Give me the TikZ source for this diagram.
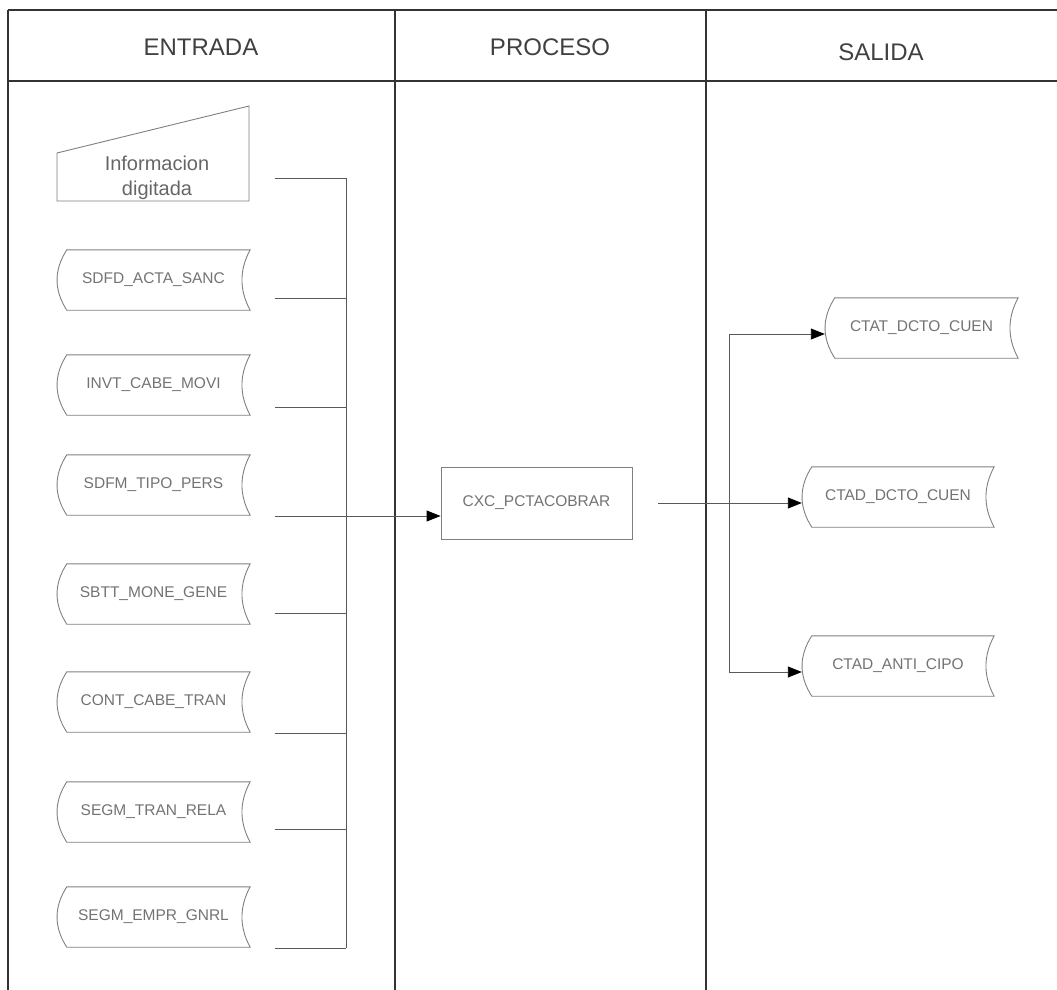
\documentclass[tikz,border=0pt]{standalone}
\usepackage{fontspec}
\setmainfont{Liberation Sans}
\usetikzlibrary{calc,arrows.meta}
\begin{document}
\begin{tikzpicture}[x=1pt,y=-1pt,
  frame/.style={line width=1.5pt, draw=black!80},
  outl/.style={draw=black!50, line width=0.9pt},
  wire/.style={draw=black!65, line width=0.9pt},
  arr/.style={wire, -{Triangle[length=14pt,width=11pt,color=black]}},
  lbl/.style={font=\fontsize{15.5}{18}\selectfont, text=black!55},
  store/.style={lbl, minimum width=193pt, minimum height=60pt, inner sep=0pt},
  hdr/.style={font=\fontsize{24}{28}\selectfont, text=black!75},
  procbox/.style={lbl, draw=black!50, line width=0.9pt, minimum width=191pt, minimum height=72pt, inner sep=0pt}]
\useasboundingbox (0,0) rectangle (1057,990);
% frame
\draw[frame] (8,10) -- (1060,10);
\draw[frame] (8,81) -- (1060,81);
\draw[frame] (8,10) -- (8,992);
\draw[frame] (395,10) -- (395,992);
\draw[frame] (706,10) -- (706,992);
% headers
\node[hdr] (hin) at (201,47) {ENTRADA};
\node[hdr] (hpr) at (550,47) {PROCESO};
\node[hdr] (hout) at (881,52) {SALIDA};
% manual input
\draw[outl] (57,153) -- (249,106) -- (249,201) -- (57,201) -- cycle;
\node[lbl, font=\fontsize{20}{25}\selectfont, align=center, text=black!60] (info) at (157,178) {Informacion\\digitada};
% storage nodes
\node[store] (sdfd) at (153.5,280) {SDFD\_ACTA\_SANC};
\node[store] (invt) at (153.5,385) {INVT\_CABE\_MOVI};
\node[store] (sdfm) at (153.5,485) {SDFM\_TIPO\_PERS};
\node[store] (sbtt) at (153.5,594) {SBTT\_MONE\_GENE};
\node[store] (cont) at (153.5,702) {CONT\_CABE\_TRAN};
\node[store] (segt) at (153.5,812) {SEGM\_TRAN\_RELA};
\node[store] (sege) at (153.5,917) {SEGM\_EMPR\_GNRL};
\node[store] (ctat) at (921.5,328) {CTAT\_DCTO\_CUEN};
\node[store, minimum width=192pt] (ctadd) at (898,497) {CTAD\_DCTO\_CUEN};
\node[store, minimum width=192pt] (ctada) at (898,666) {CTAD\_ANTI\_CIPO};
\foreach \n in {sdfd,invt,sdfm,sbtt,cont,segt,sege,ctat,ctadd,ctada}
  \draw[outl] ($(\n.north west)+(10,0)$) -- (\n.north east)
     .. controls +(-11,20) and +(-11,-20) .. (\n.south east)
     -- ($(\n.south west)+(10,0)$)
     .. controls +(-13,-20) and +(-13,20) .. ($(\n.north west)+(10,0)$) -- cycle;
% process
\node[procbox] (proc) at (536.5,503) {CXC\_PCTACOBRAR};
% input bus
\coordinate (bus) at (346,0);
\coordinate (s0) at (275,178);
\coordinate (s1) at (275,298);
\coordinate (s2) at (275,407);
\coordinate (s3) at (275,516);
\coordinate (s4) at (275,613);
\coordinate (s5) at (275,733);
\coordinate (s6) at (275,829);
\coordinate (s7) at (275,948);
\foreach \s in {s0,s1,s2,s4,s5,s6,s7}
  \draw[wire] (\s) -- (\s -| bus);
\draw[wire] (s0 -| bus) -- (s7 -| bus);
\draw[arr] (s3) -- (s3 -| proc.west);
% output
\coordinate (o0) at (658,503);
\coordinate (t1) at (729,334);
\coordinate (t3) at (729,672);
\draw[arr] (o0) -- (o0 -| ctadd.west);
\draw[wire] (t1) -- (t3);
\draw[arr] (t1) -- (t1 -| ctat.west);
\draw[arr] (t3) -- (t3 -| ctada.west);
\end{tikzpicture}
\end{document}
